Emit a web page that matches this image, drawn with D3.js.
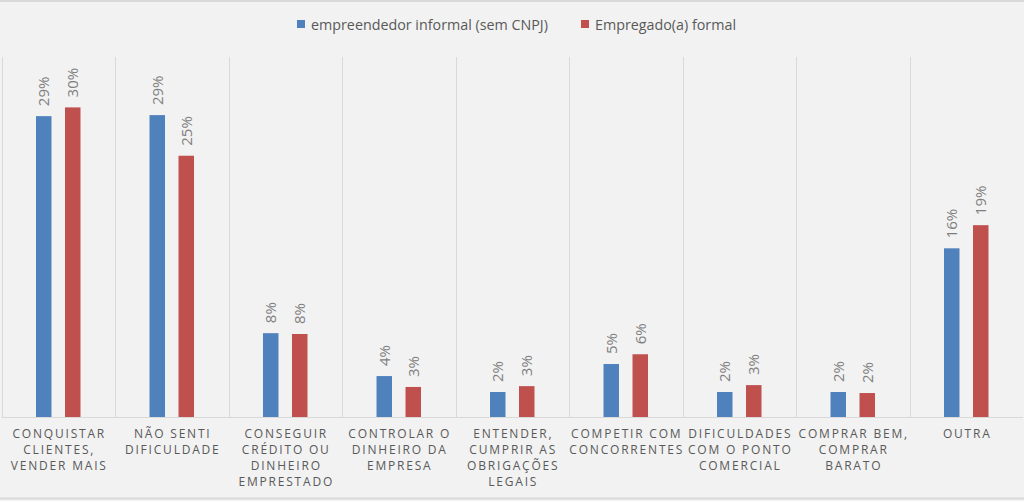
<!DOCTYPE html>
<html><head><meta charset="utf-8">
<script src="https://cdn.jsdelivr.net/npm/d3@7"></script>
<style>
html,body{margin:0;padding:0;background:#f2f2f2;}
svg{display:block;}
</style></head>
<body>
<svg id="chart" width="1024" height="501"></svg>
<script>
const categories = [
  "CONQUISTAR|CLIENTES,|VENDER MAIS",
  "NÃO SENTI|DIFICULDADE",
  "CONSEGUIR|CRÉDITO OU|DINHEIRO|EMPRESTADO",
  "CONTROLAR O|DINHEIRO DA|EMPRESA",
  "ENTENDER,|CUMPRIR AS|OBRIGAÇÕES|LEGAIS",
  "COMPETIR COM|CONCORRENTES",
  "DIFICULDADES|COM O PONTO|COMERCIAL",
  "COMPRAR BEM,|COMPRAR|BARATO",
  "OUTRA"
];
const seriesNames = ["empreendedor informal (sem CNPJ)", "Empregado(a) formal"];
const informal = [29.25, 29.35, 8.15, 3.98, 2.43, 5.15, 2.43, 2.43, 16.4];
const formal = [30.1, 25.4, 8.07, 2.92, 3.0, 6.1, 3.1, 2.33, 18.65];
const colors = ["#4f81bd", "#c0504d"];
const yMax = 35;

const svg = d3.select("#chart");
const W = 1024, H = 501;
const plotLeft = 1.5, plotRight = 1023, plotTop = 57, plotBottom = 417;

svg.append("rect").attr("x",0).attr("y",0).attr("width",W).attr("height",H).attr("fill","#f2f2f2");
svg.append("line").attr("x1",0).attr("x2",W).attr("y1",1).attr("y2",1).attr("stroke","#d9d9d9").attr("stroke-width",2);
svg.append("line").attr("x1",0).attr("x2",W).attr("y1",498.5).attr("y2",498.5).attr("stroke","#d9d9d9").attr("stroke-width",2);

const x = d3.scaleBand().domain(d3.range(categories.length)).range([plotLeft, plotRight]).padding(0);
const y = d3.scaleLinear().domain([0, yMax]).range([plotBottom, plotTop]);
const barW = 15.5, offset = 14.5;

// gridlines
svg.append("g").selectAll("line").data(d3.range(categories.length)).join("line")
  .attr("x1", d => Math.round(x(d)) + 0.5).attr("x2", d => Math.round(x(d)) + 0.5)
  .attr("y1", plotTop).attr("y2", plotBottom)
  .attr("stroke", "#d9d9d9").attr("stroke-width", 1);
// baseline
svg.append("line").attr("x1", plotLeft).attr("x2", plotRight).attr("y1", plotBottom + 0.5).attr("y2", plotBottom + 0.5)
  .attr("stroke", "#d9d9d9").attr("stroke-width", 1);

const series = [informal, formal];
series.forEach((vals, si) => {
  const g = svg.append("g");
  const cx = i => x(i) + x.bandwidth()/2 + (si === 0 ? -offset : offset);
  g.selectAll("rect").data(vals).join("rect")
    .attr("x", (d,i) => cx(i) - barW/2)
    .attr("y", d => y(d))
    .attr("width", barW)
    .attr("height", d => plotBottom - y(d))
    .attr("fill", colors[si]);
  g.selectAll("text").data(vals).join("text")
    .attr("transform", (d,i) => `translate(${cx(i) + 5.5},${y(d) - 10}) rotate(-90)`)
    .attr("text-anchor", "start")
    .attr("font-family", "Open Sans, sans-serif")
    .attr("font-size", 15)
    .attr("fill", "#7f7f7f")
    .text(d => Math.round(d) + "%");
});

// category labels
const cg = svg.append("g");
categories.forEach((c, i) => {
  const t = cg.append("text")
    .attr("text-anchor", "middle")
    .attr("font-family", "Open Sans, sans-serif")
    .attr("font-size", 12)
    .attr("letter-spacing", 1.8)
    .attr("fill", "#595959");
  c.split("|").forEach((ln, k) => {
    t.append("tspan").attr("x", x(i) + x.bandwidth()/2 + 1).attr("y", 438 + k*16).text(ln);
  });
});

// legend
const legendX = [297, 581];
seriesNames.forEach((n, si) => {
  svg.append("rect").attr("x", legendX[si]).attr("y", 20).attr("width", 8).attr("height", 8).attr("fill", colors[si]);
  svg.append("text").attr("x", legendX[si] + 14).attr("y", 29.5)
    .attr("font-family", "Open Sans, sans-serif").attr("font-size", 14.3).attr("fill", "#595959").text(n);
});
</script>
</body></html>
